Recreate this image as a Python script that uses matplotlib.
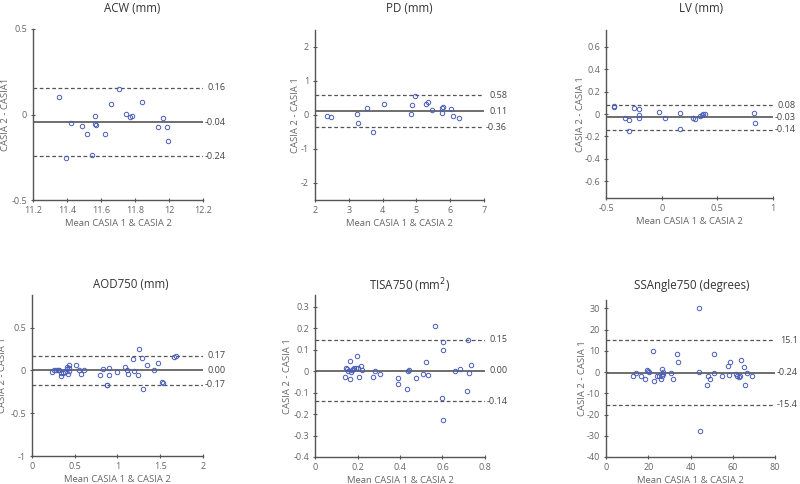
import matplotlib
matplotlib.use('Agg')
import matplotlib.pyplot as plt
import matplotlib.transforms as mtransforms
from matplotlib.ticker import FormatStrFormatter

plt.rcParams['font.family'] = ['Open Sans', 'DejaVu Sans']

# ---- data (mean, difference) ----
acw_x = [11.352, 11.395, 11.423, 11.487, 11.52, 11.545, 11.567, 11.567, 11.569, 11.621,
         11.661, 11.704, 11.747, 11.768, 11.78, 11.844, 11.934, 11.965, 11.989, 11.997]
acw_y = [0.100, -0.256, -0.052, -0.068, -0.112, -0.235, -0.009, -0.055, -0.062, -0.114,
         0.061, 0.147, 0.003, -0.013, -0.007, 0.073, -0.073, -0.018, -0.075, -0.153]

pd_x = [2.35, 2.48, 3.23, 3.27, 3.54, 3.72, 4.05, 4.86, 4.85, 4.97,
        5.29, 5.35, 5.47, 5.75, 5.79, 5.75, 6.03, 6.09, 6.26]
pd_y = [-0.03, -0.07, 0.03, -0.23, 0.22, -0.50, 0.33, 0.28, 0.04, 0.55,
        0.31, 0.39, 0.15, 0.22, 0.25, 0.05, 0.18, -0.04, -0.08]

lv_x = [-0.429, -0.426, -0.33, -0.289, -0.29, -0.248, -0.207, -0.20, -0.207, -0.024, 0.027,
        0.163, 0.169, 0.284, 0.302, 0.343, 0.358, 0.373, 0.39, 0.828, 0.84]
lv_y = [0.065, 0.074, -0.036, -0.053, -0.149, 0.053, -0.006, 0.042, -0.036, 0.018, -0.033,
        0.012, -0.137, -0.039, -0.045, -0.021, -0.009, -0.003, -0.003, 0.012, -0.077]

aod_x = [0.233, 0.26, 0.275, 0.30, 0.31, 0.335, 0.342, 0.362, 0.389, 0.409, 0.412, 0.42,
         0.428, 0.432, 0.436, 0.51, 0.553, 0.568, 0.611, 0.798, 0.833, 0.872, 0.88,
         0.895, 0.895, 0.992, 1.089, 1.113, 1.12, 1.183, 1.19, 1.237, 1.253, 1.288,
         1.30, 1.35, 1.43, 1.47, 1.525, 1.533, 1.665, 1.68]
aod_y = [-0.016, 0.004, 0.008, 0.0, 0.008, -0.027, -0.062, -0.027, -0.016, 0.012, 0.043, -0.047,
         0.027, 0.058, -0.008, 0.066, 0.008, -0.039, 0.004, -0.058, 0.019, -0.171, -0.175,
         0.027, -0.058, -0.019, 0.035, 0.0, -0.039, 0.136, -0.012, -0.054, 0.248, 0.143,
         -0.221, 0.062, 0.008, 0.089, -0.140, -0.151, 0.151, 0.163]

tisa_x = [0.139, 0.147, 0.151, 0.157, 0.164, 0.164, 0.168, 0.173, 0.178, 0.184, 0.193,
          0.198, 0.201, 0.207, 0.218, 0.223, 0.275, 0.281, 0.304, 0.392, 0.392, 0.432,
          0.438, 0.443, 0.474, 0.51, 0.523, 0.534, 0.566, 0.596, 0.601, 0.601, 0.601,
          0.66, 0.682, 0.713, 0.719, 0.724, 0.736]
tisa_y = [-0.025, 0.017, 0.011, 0.003, 0.048, -0.036, -0.002, 0.006, 0.011, 0.016, 0.014,
          0.069, 0.017, -0.028, 0.022, 0.005, -0.027, 0.003, -0.011, -0.034, -0.059, -0.083,
          0.003, 0.005, -0.030, -0.014, 0.042, -0.020, 0.209, -0.123, 0.135, 0.097, -0.229,
          0.0, 0.011, -0.093, 0.146, -0.008, 0.031]

ss_x = [13.0, 14.1, 16.4, 18.3, 19.2, 19.7, 20.2, 22.2, 22.8, 24.2, 25.2, 25.9, 26.4, 26.4,
        27.0, 27.2, 30.9, 31.7, 33.4, 34.1, 43.9, 44.1, 44.7, 47.7, 48.3, 49.4, 50.9, 51.3,
        54.7, 57.7, 58.0, 58.9, 61.6, 62.2, 62.8, 63.4, 64.1, 65.2, 65.6, 66.6, 69.2]
ss_y = [-1.9, -0.5, -1.9, -3.4, 1.1, 0.6, 0.2, 10.1, -4.0, -2.0, -1.9, -3.1, 1.4, -1.9,
        -0.9, 0.0, -0.3, -3.4, 8.7, 4.8, 30.0, 0.0, -27.7, -5.9, -1.9, -3.1, -0.5, 8.7,
        -1.9, 2.8, -1.2, 5.0, -0.9, -1.9, -2.3, -1.6, 5.8, 2.2, -5.9, -0.6, -1.7]

titles = ['ACW (mm)', 'PD (mm)', 'LV (mm)', 'AOD750 (mm)', 'TISA750 (mm$^2$)',
          'SSAngle750 (degrees)']
ylabels = ['CASIA 2 - CASIA1', 'CASIA 2 - CASIA 1', 'CASIA 2 - CASIA 1',
           'CASIA 2 - CASIA 1', 'CASIA 2 - CASIA 1', 'CASIA 2 - CASIA 1']
# mean bias, upper and lower limits of agreement, with printed labels
bias = [-0.044, 0.11, -0.03, 0.0, 0.003, -0.24]
upper = [0.155, 0.58, 0.08, 0.17, 0.146, 15.1]
lower = [-0.243, -0.36, -0.14, -0.17, -0.14, -15.4]
bias_lbl = ['-0.04', '0.11', '-0.03', '0.00', '0.00', '-0.24']
upper_lbl = ['0.16', '0.58', '0.08', '0.17', '0.15', '15.1']
lower_lbl = ['-0.24', '-0.36', '-0.14', '-0.17', '-0.14', '-15.4']

xs = [acw_x, pd_x, lv_x, aod_x, tisa_x, ss_x]
ys = [acw_y, pd_y, lv_y, aod_y, tisa_y, ss_y]

xlims = [(11.2, 12.2), (2, 7), (-0.5, 1), (0, 2), (0, 0.8), (0, 80)]
ylims = [(-0.5, 0.5), (-2.5, 2.5), (-0.75, 0.75), (-1, 0.88), (-0.4, 0.355), (-40, 34)]
xticks = [[11.2, 11.4, 11.6, 11.8, 12, 12.2], [2, 3, 4, 5, 6, 7], [-0.5, 0, 0.5, 1],
          [0, 0.5, 1, 1.5, 2], [0, 0.2, 0.4, 0.6, 0.8], [0, 20, 40, 60, 80]]
yticks = [[-0.5, 0, 0.5], [-2, -1, 0, 1, 2], [-0.6, -0.4, -0.2, 0, 0.2, 0.4, 0.6],
          [-1, -0.5, 0, 0.5], [-0.4, -0.3, -0.2, -0.1, 0, 0.1, 0.2, 0.3],
          [-40, -30, -20, -10, 0, 10, 20, 30]]

# pixel boxes (left, top, right, bottom) and title centre (x, y)
W, H = 800, 484
boxes = [(33, 29, 203, 200), (315, 30, 484, 200), (606, 30, 773, 198),
         (32, 295, 203, 456), (315, 295, 485, 457), (606, 300, 775, 457)]
title_pos = [(132, 8), (409, 8), (701, 8), (131, 285), (410, 286), (692, 285)]
# right edge of the rotated y label, in axes fraction
ylab_x = [-0.135, -0.089, -0.124, -0.146, -0.135, -0.111]

line_col = '#555555'
text_col = '#666666'
dot_col = '#4a5db8'

fig = plt.figure(figsize=(8, 4.84), dpi=100)

for i in range(6):
    l, t, r, b = boxes[i]
    ax = fig.add_axes([l / W, 1 - b / H, (r - l) / W, (b - t) / H])
    ax.set_xlim(*xlims[i])
    ax.set_ylim(*ylims[i])

    ax.axhline(bias[i], color=line_col, lw=1.2)
    ax.axhline(upper[i], color=line_col, lw=0.9, ls=(0, (3, 2)))
    ax.axhline(lower[i], color=line_col, lw=0.9, ls=(0, (3, 2)))
    ax.plot(xs[i], ys[i], 'o', ms=3.2, mfc='none', mec=dot_col, mew=0.7)

    # value labels: digits line up, a leading minus hangs to the left
    trans = mtransforms.blended_transform_factory(ax.transAxes, ax.transData)
    for v, s in [(bias[i], bias_lbl[i]), (upper[i], upper_lbl[i]), (lower[i], lower_lbl[i])]:
        off = 2 if s.startswith('-') else 5
        ax.text(1 + off / (r - l), v, s, transform=trans, va='center', ha='left',
                fontsize=6.6, color='#444444')

    ax.set_xticks(xticks[i])
    ax.set_yticks(yticks[i])
    ax.xaxis.set_major_formatter(FormatStrFormatter('%g'))
    ax.yaxis.set_major_formatter(FormatStrFormatter('%g'))
    ax.tick_params(direction='inout', length=2.5, width=0.8, labelsize=6.5, colors=line_col,
                   labelcolor=text_col, pad=3)

    for side in ['top', 'right']:
        ax.spines[side].set_visible(False)
    for side in ['left', 'bottom']:
        ax.spines[side].set_color(line_col)
        ax.spines[side].set_linewidth(1.0)

    ax.set_xlabel('Mean CASIA 1 & CASIA 2', fontsize=6.8, color=text_col)
    ax.xaxis.set_label_coords(0.5, -19 / (b - t))
    ax.set_ylabel(ylabels[i], fontsize=6.8, color=text_col)
    ax.yaxis.set_label_coords(ylab_x[i], 0.5)

    tx, ty = title_pos[i]
    fig.text(tx / W, 1 - ty / H, titles[i], ha='center', va='center', fontsize=8.3,
             color='#333333')

fig.savefig('out.png', dpi=100)
